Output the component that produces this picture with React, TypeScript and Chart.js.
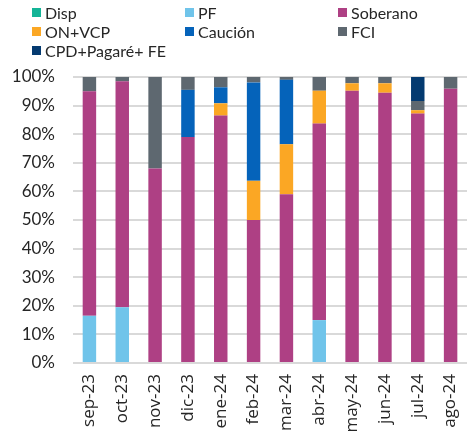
import React, { useEffect, useRef } from "react";
import { Chart, registerables } from "chart.js";

Chart.register(...registerables);

const categories = ["sep-23", "oct-23", "nov-23", "dic-23", "ene-24", "feb-24", "mar-24", "abr-24", "may-24", "jun-24", "jul-24", "ago-24"];
const disp = [0, 0, 0, 0, 0, 0, 0, 0, 0, 0, 0, 0];
const pf = [16.5, 19.5, 0, 0, 0, 0, 0, 15, 0, 0, 0, 0];
const soberano = [78.5, 79, 68, 79, 86.5, 50, 59, 68.7, 95.2, 94.5, 87.2, 95.9];
const onVcp = [0, 0, 0, 0, 4.3, 13.7, 17.5, 11.5, 2.6, 3.3, 1.2, 0];
const caucion = [0, 0, 0, 16.5, 5.6, 34.4, 22.5, 0, 0, 0, 0, 0];
const fci = [5, 1.5, 32, 4.5, 3.6, 1.9, 1, 4.8, 2.2, 2.2, 3.2, 4.1];
const cpd = [0, 0, 0, 0, 0, 0, 0, 0, 0, 0, 8.4, 0];

const seriesNames = ["Disp", "PF", "Soberano", "ON+VCP", "Caución", "FCI", "CPD+Pagaré+ FE"];
const seriesColors = ["#14b497", "#70c4ea", "#ae4084", "#fba724", "#0563ba", "#5e6870", "#043a70"];
const seriesData = [disp, pf, soberano, onVcp, caucion, fci, cpd];

const FONT = "Lato, 'DejaVu Sans', sans-serif";
const XFONT = "'Open Sans', 'DejaVu Sans', sans-serif";
const TEXT = "#262626";

export default function App() {
  const ref = useRef<HTMLCanvasElement>(null);
  useEffect(() => {
    document.body.style.margin = "0";
    document.body.style.overflow = "hidden";
    const ctx = ref.current!.getContext("2d")!;
    const chart = new Chart(ctx, {
      type: "bar",
      data: {
        labels: categories,
        datasets: seriesNames.map((n, i) => ({
          label: n,
          data: seriesData[i],
          backgroundColor: seriesColors[i],
          borderWidth: 0,
          barPercentage: 0.41,
          categoryPercentage: 1,
        })),
      },
      options: {
        animation: false,
        responsive: false,
        devicePixelRatio: 1,
        layout: { padding: { top: 77, left: 0, right: 0, bottom: 0 } },
        plugins: { legend: { display: false }, tooltip: { enabled: false } },
        scales: {
          x: {
            stacked: true,
            grid: { display: false, drawTicks: false },
            border: { display: false },
            ticks: {
              color: TEXT,
              font: { family: XFONT, size: 17 },
              maxRotation: 90,
              minRotation: 90,
              padding: 11,
              autoSkip: false,
            },
            afterFit: (s: any) => {
              s.height = 73;
            },
          },
          y: {
            stacked: true,
            min: 0,
            max: 100,
            grid: { color: "#d9d9d9", lineWidth: 2, drawTicks: false },
            border: { display: false },
            ticks: {
              stepSize: 10,
              color: TEXT,
              font: { family: FONT, size: 17 },
              padding: 18,
              callback: (v: any) => v + "%",
            },
            afterFit: (s: any) => {
              s.width = 73;
            },
          },
        },
      },
    });
    return () => chart.destroy();
  }, []);

  return (
    <div style={{ position: "relative", width: 476, height: 436, overflow: "hidden", background: "#fff" }}>
      <canvas ref={ref} width={482} height={436} style={{ position: "absolute", left: 0, top: 0 }} />
      <div
        style={{
          position: "absolute",
          left: 32,
          top: 3,
          display: "grid",
          gridTemplateColumns: "153px 153px 153px",
          gridAutoRows: "19px",
          fontFamily: FONT,
          fontSize: 16,
          color: TEXT,
          lineHeight: "19px",
        }}
      >
        {seriesNames.map((n, i) => (
          <div key={n} style={{ display: "flex", alignItems: "center", whiteSpace: "nowrap" }}>
            <span style={{ display: "inline-block", width: 9, height: 9, background: seriesColors[i], marginRight: 4 }} />
            <span>{n}</span>
          </div>
        ))}
      </div>
    </div>
  );
}
